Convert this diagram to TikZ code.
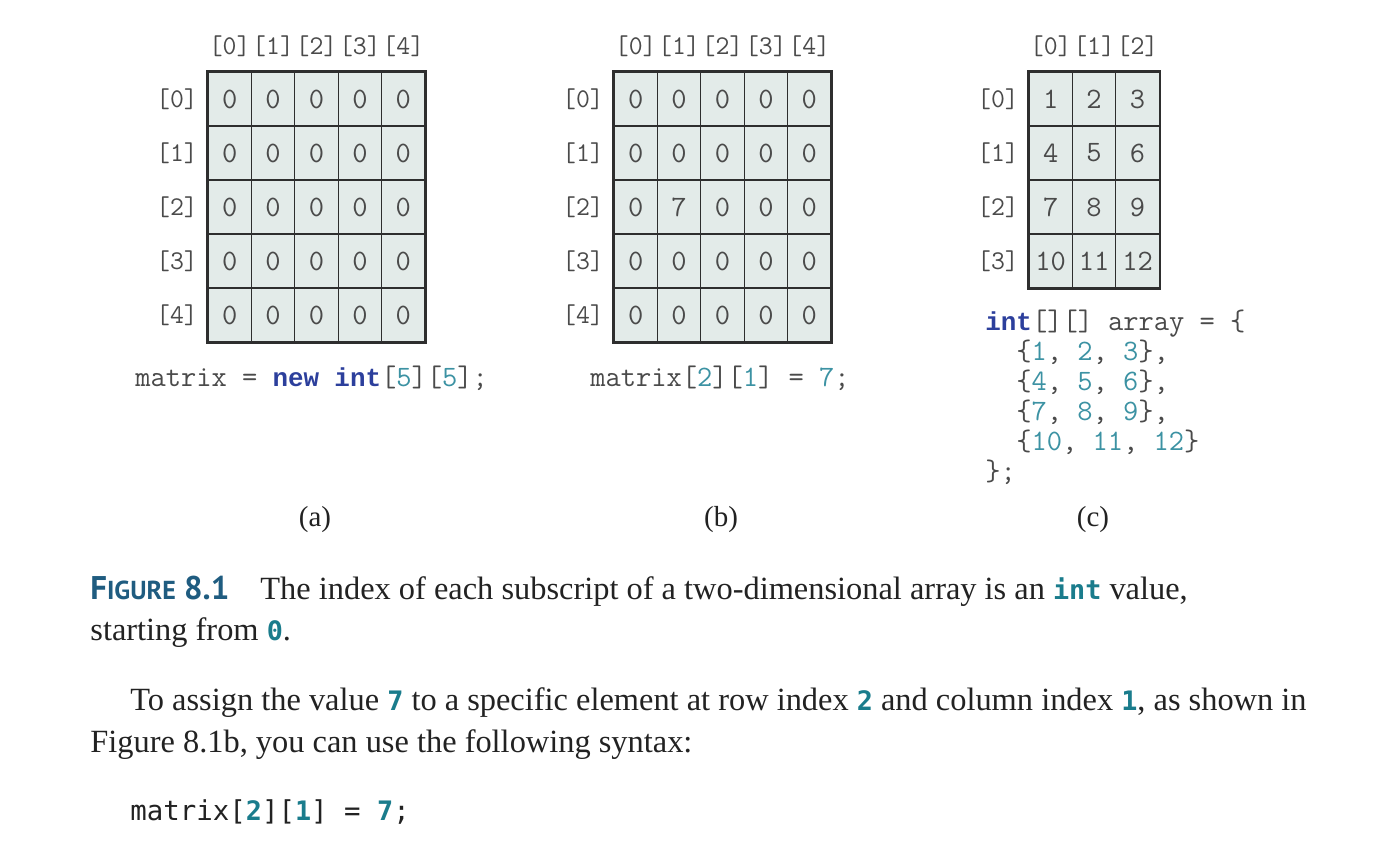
\documentclass[tikz,border=0pt]{standalone}
\usepackage{fontspec}
\setmainfont{Liberation Serif}
\newfontfamily\kwmono{Liberation Mono}
\newfontfamily\txtmono{DejaVu Sans Mono}
\newfontfamily\capfont{PT Sans}

\definecolor{cellfill}{HTML}{E3EBE9}
\definecolor{gridline}{HTML}{2E2E2E}
\definecolor{figtext}{HTML}{4A4A4A}
\definecolor{kwblue}{HTML}{2C3F9C}
\definecolor{numteal}{HTML}{3C92A3}
\definecolor{capblue}{HTML}{1F5C80}
\definecolor{txtteal}{HTML}{1A7C8C}
\definecolor{bodytext}{HTML}{222222}

\newcommand{\kw}[1]{{\kwmono\bfseries\fontsize{12.95}{15}\selectfont\color{kwblue}#1}}
\newcommand{\nm}[1]{{\color{numteal}#1}}
\newcommand{\tm}[1]{{\txtmono\bfseries\fontsize{13.4}{16}\selectfont\color{txtteal}#1}}

\begin{document}
\begin{tikzpicture}[x=0.5pt, y=-0.5pt,
    cell/.style={draw=gridline, line width=0.6pt, fill=cellfill, inner sep=0pt,
      minimum width=21.7pt, minimum height=27pt, text=figtext,
      font=\ttfamily\fontsize{14.8}{17}\selectfont},
    frame/.style={draw=gridline, line width=1pt},
    rowlab/.style={text=figtext, inner sep=0pt, font=\ttfamily\fontsize{13.5}{16}\selectfont},
    collab/.style={rowlab},
    code/.style={anchor=base west, inner sep=0pt, text=figtext,
      font=\ttfamily\fontsize{14.8}{17}\selectfont},
    sub/.style={anchor=base, inner sep=0pt, text=bodytext,
      font=\fontsize{14.5}{17}\selectfont},
    body/.style={anchor=base west, inner sep=0pt, text=bodytext,
      font=\fontsize{16.2}{19}\selectfont}]
  \useasboundingbox (0,0) rectangle (1393,865);

  % (a) matrix = new int[5][5]
  \foreach \r in {0,...,4}{
    \foreach \c in {0,...,4}
      \node[cell] (a-\r-\c) at ({229.7+43.4*\c},{99+54*\r}) {0};
    \node[rowlab] (arow-\r) at (177,{99+54*\r}) {[\r]};
  }
  \foreach \c in {0,...,4}
    \node[collab] (acol-\c) at ({229.7+43.4*\c},46) {[\c]};
  \draw[frame] (a-0-0.north west) rectangle (a-4-4.south east);
  \node[code] (codeA) at (135,387) {matrix = \kw{new} \kw{int}[\nm{5}][\nm{5}];};
  \node[sub] (subA) at (315,527) {(a)};

  % (b) matrix[2][1] = 7
  \foreach \r in {0,...,4}{
    \foreach \c in {0,...,4}
      \node[cell] (b-\r-\c) at ({635.7+43.4*\c},{99+54*\r})
        {\ifnum\r=2 \ifnum\c=1 7\else 0\fi\else 0\fi};
    \node[rowlab] (brow-\r) at (583,{99+54*\r}) {[\r]};
  }
  \foreach \c in {0,...,4}
    \node[collab] (bcol-\c) at ({635.7+43.4*\c},46) {[\c]};
  \draw[frame] (b-0-0.north west) rectangle (b-4-4.south east);
  \node[code] (codeB) at (590,387) {matrix[\nm{2}][\nm{1}] = \nm{7};};
  \node[sub] (subB) at (721,527) {(b)};

  % (c) initializer
  \foreach \r in {0,...,3}{
    \foreach \c in {0,...,2}{
      \pgfmathtruncatemacro{\v}{3*\r+\c+1}
      \node[cell] (c-\r-\c) at ({1050.7+43.4*\c},{99+54*\r}) {\v};
    }
    \node[rowlab] (crow-\r) at (998,{99+54*\r}) {[\r]};
  }
  \foreach \c in {0,...,2}
    \node[collab] (ccol-\c) at ({1050.7+43.4*\c},46) {[\c]};
  \draw[frame] (c-0-0.north west) rectangle (c-3-2.south east);
  \node[code] (codeC0) at (985,331) {\kw{int}[][] array = \{};
  \node[code] (codeC1) at (1016,361) {\{\nm{1}, \nm{2}, \nm{3}\},};
  \node[code] (codeC2) at (1016,391) {\{\nm{4}, \nm{5}, \nm{6}\},};
  \node[code] (codeC3) at (1016,421) {\{\nm{7}, \nm{8}, \nm{9}\},};
  \node[code] (codeC4) at (1016,451) {\{\nm{10}, \nm{11}, \nm{12}\}};
  \node[code] (codeC5) at (985,481) {\};};
  \node[sub] (subC) at (1093,527) {(c)};

  % caption and text
  \node[body, font=\capfont\bfseries\fontsize{16.4}{19}\selectfont, text=capblue]
    (figlab) at (90,600) {F{\fontsize{13}{15}\selectfont IGURE} 8.1};
  \node[body] (capA) at (260,600)
    {The index of each subscript of a two-dimensional array is an \tm{int} value,};
  \node[body] (capB) at (90,641) {starting from \tm{0}.};
  \node[body] (parA) at (130,711)
    {To assign the value \tm{7} to a specific element at row index \tm{2} and column index \tm{1}, as shown in};
  \node[body] (parB) at (90,753) {Figure 8.1b, you can use the following syntax:};
  \node[body, font=\txtmono\fontsize{13.7}{16}\selectfont] (codeD) at (130,820)
    {matrix[\tm{2}][\tm{1}] = \tm{7};};
\end{tikzpicture}
\end{document}
